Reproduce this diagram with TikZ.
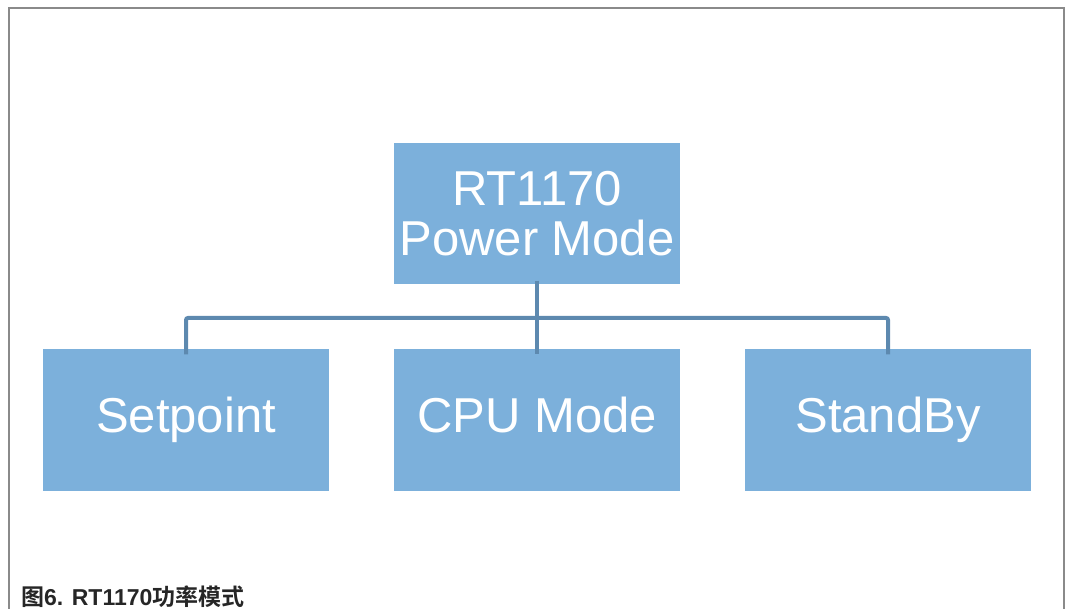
\documentclass[tikz,border=0pt]{standalone}
\usepackage{fontspec}
\setmainfont{Liberation Sans}
\newfontfamily\cjkfont{Noto Sans CJK SC}[BoldFont={* Bold}]
\definecolor{boxfill}{HTML}{7CB0DB}
\definecolor{linkcol}{HTML}{5D89AF}
\definecolor{framecol}{HTML}{8A8A8A}
\definecolor{captcol}{HTML}{262626}
\begin{document}
\begin{tikzpicture}[x=1pt,y=-1pt,
  modebox/.style={fill=boxfill,draw=none,minimum width=286pt,minimum height=141pt,
    text=white,font=\fontsize{49}{50}\selectfont,align=center,inner sep=0pt},
  leafbox/.style={modebox,text height=35pt,text depth=10pt},
  link/.style={draw=linkcol,line width=4pt,rounded corners=2pt}]
\useasboundingbox (0,0) rectangle (1065,609);
\draw[framecol,line width=2pt] (8.5,620) -- (8.5,8) -- (1063.5,8) -- (1063.5,620);
\node[modebox] (root) at (537,214) {RT1170\\Power Mode};
\node[leafbox] (sp) at (186,420) {Setpoint};
\node[leafbox] (cpu) at (537,420) {CPU Mode};
\node[leafbox] (sb) at (888,420) {StandBy};
\coordinate (hl) at (186,318);
\coordinate (hr) at (888,318);
\draw[link] ([yshift=4pt]root.south) -- ([yshift=-5pt]cpu.north);
\draw[link] ([yshift=-5pt]sp.north) -- (hl) -- (hr) -- ([yshift=-5pt]sb.north);
\node[anchor=base west,inner sep=0pt,text=captcol,font=\bfseries\fontsize{23}{26}\selectfont] (cap) at (21,605)
  {{\cjkfont\bfseries 图}6. RT1170{\cjkfont\bfseries 功率模式}};
\end{tikzpicture}
\end{document}
